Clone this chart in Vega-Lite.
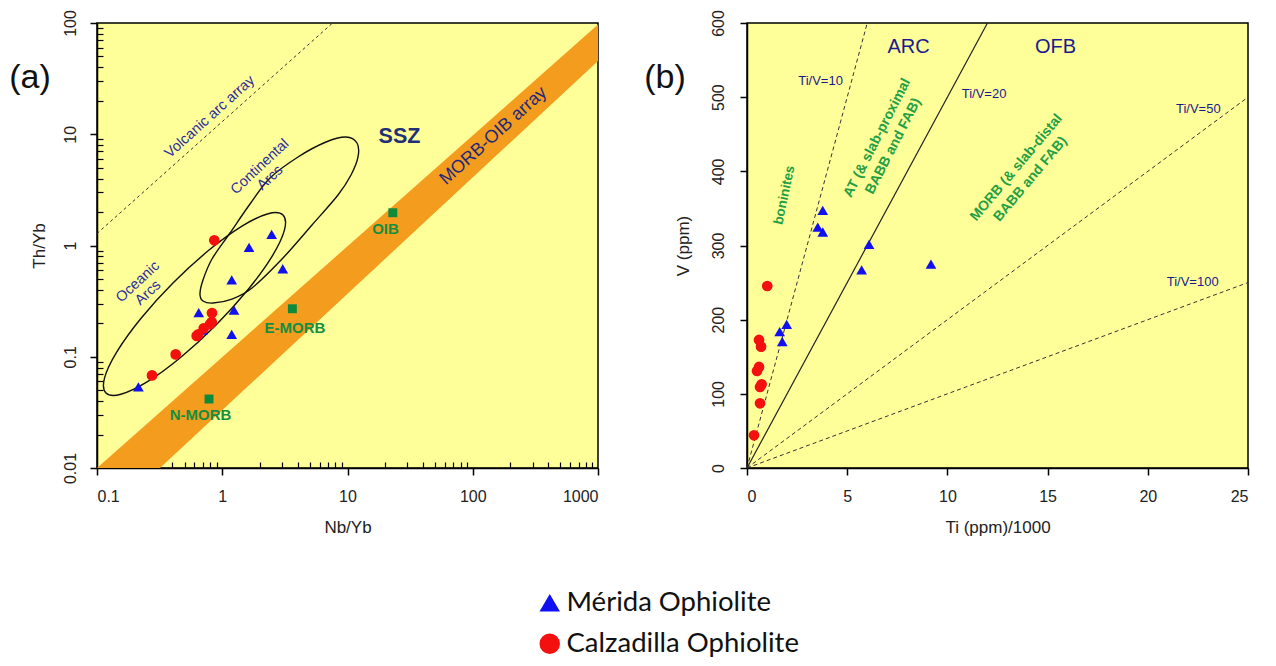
{
  "$schema": "https://vega.github.io/schema/vega-lite/v6.json",
  "padding": {"left": 8, "top": 8, "right": 0, "bottom": 0},
  "bounds": "flush",
  "spacing": 149,
  "config": {
    "view": {"fill": "#FFFF99", "stroke": "#000000", "strokeWidth": 1.5},
    "font": "Liberation Sans",
    "axis": {"domainColor": "#000000", "domainWidth": 1.5, "tickColor": "#000000", "tickWidth": 1.5, "tickSize": 7, "labelFont": "Liberation Sans", "labelFontSize": 16, "labelColor": "#222222", "titleFont": "Liberation Sans", "titleFontSize": 17, "titleFontWeight": "normal", "titleColor": "#222222", "grid": false, "zindex": 1},
    "axisX": {"labelPadding": 13, "titlePadding": 15},
    "axisY": {"labelAngle": -90, "labelAlign": "center", "labelBaseline": "bottom", "labelPadding": 12, "titleBaseline": "middle"},
    "legend": {"title": null, "orient": "none", "legendX": 439, "legendY": 566, "direction": "vertical", "symbolSize": 420, "labelFont": "Lato", "labelFontSize": 27.5, "labelColor": "#111111", "labelLimit": 500, "rowPadding": 12, "labelOffset": 3, "symbolStrokeWidth": 0}
  },
  "datasets": {
    "band": [{"x": 0.1, "hi": 0.01, "lo": 0.00298}, {"x": 1000, "hi": 97, "lo": 45.5}],
    "volcanic": [{"x": 0.1, "y": 1.28}, {"x": 7.6, "y": 100}],
    "ellipses": [
      {"arc": "Oceanic", "i": 1, "x": 3.055, "y": 1.879},
      {"arc": "Oceanic", "i": 2, "x": 3.14, "y": 1.38},
      {"arc": "Oceanic", "i": 3, "x": 2.506, "y": 0.803},
      {"arc": "Oceanic", "i": 4, "x": 1.608, "y": 0.402},
      {"arc": "Oceanic", "i": 5, "x": 0.888, "y": 0.192},
      {"arc": "Oceanic", "i": 6, "x": 0.462, "y": 0.0981},
      {"arc": "Oceanic", "i": 7, "x": 0.251, "y": 0.0594},
      {"arc": "Oceanic", "i": 8, "x": 0.155, "y": 0.046},
      {"arc": "Oceanic", "i": 9, "x": 0.118, "y": 0.0472},
      {"arc": "Oceanic", "i": 10, "x": 0.1148, "y": 0.0643},
      {"arc": "Oceanic", "i": 11, "x": 0.144, "y": 0.1106},
      {"arc": "Oceanic", "i": 12, "x": 0.224, "y": 0.2207},
      {"arc": "Oceanic", "i": 13, "x": 0.406, "y": 0.462},
      {"arc": "Oceanic", "i": 14, "x": 0.78, "y": 0.905},
      {"arc": "Oceanic", "i": 15, "x": 1.438, "y": 1.494},
      {"arc": "Oceanic", "i": 16, "x": 2.323, "y": 1.931},
      {"arc": "Continental", "i": 1, "x": 0.664, "y": 0.3665},
      {"arc": "Continental", "i": 2, "x": 0.702, "y": 0.49},
      {"arc": "Continental", "i": 3, "x": 0.828, "y": 0.756},
      {"arc": "Continental", "i": 4, "x": 1.153, "y": 1.295},
      {"arc": "Continental", "i": 5, "x": 1.666, "y": 2.361},
      {"arc": "Continental", "i": 6, "x": 2.406, "y": 4.044},
      {"arc": "Continental", "i": 7, "x": 4.026, "y": 6.246},
      {"arc": "Continental", "i": 8, "x": 6.735, "y": 8.517},
      {"arc": "Continental", "i": 9, "x": 9.73, "y": 9.448},
      {"arc": "Continental", "i": 10, "x": 11.91, "y": 8.343},
      {"arc": "Continental", "i": 11, "x": 12.13, "y": 6.246},
      {"arc": "Continental", "i": 12, "x": 10.67, "y": 4.302},
      {"arc": "Continental", "i": 13, "x": 8.4, "y": 2.844},
      {"arc": "Continental", "i": 14, "x": 5.207, "y": 1.529},
      {"arc": "Continental", "i": 15, "x": 3.0, "y": 0.756},
      {"arc": "Continental", "i": 16, "x": 1.728, "y": 0.415},
      {"arc": "Continental", "i": 17, "x": 1.196, "y": 0.33},
      {"arc": "Continental", "i": 18, "x": 0.844, "y": 0.304},
      {"arc": "Continental", "i": 19, "x": 0.702, "y": 0.317}
    ],
    "refs": [{"name": "OIB", "x": 23, "y": 1.97}, {"name": "E-MORB", "x": 3.63, "y": 0.27}, {"name": "N-MORB", "x": 0.784, "y": 0.0417}],
    "samplesA": [
      {"series": "Mérida Ophiolite", "x": 0.214, "y": 0.0535},
      {"series": "Mérida Ophiolite", "x": 0.649, "y": 0.249},
      {"series": "Mérida Ophiolite", "x": 0.693, "y": 0.174},
      {"series": "Mérida Ophiolite", "x": 1.241, "y": 0.263},
      {"series": "Mérida Ophiolite", "x": 1.19, "y": 0.159},
      {"series": "Mérida Ophiolite", "x": 1.19, "y": 0.49},
      {"series": "Mérida Ophiolite", "x": 1.636, "y": 0.964},
      {"series": "Mérida Ophiolite", "x": 2.48, "y": 1.26},
      {"series": "Mérida Ophiolite", "x": 3.04, "y": 0.618},
      {"series": "Calzadilla Ophiolite", "x": 0.864, "y": 1.114},
      {"series": "Calzadilla Ophiolite", "x": 0.828, "y": 0.247},
      {"series": "Calzadilla Ophiolite", "x": 0.824, "y": 0.205},
      {"series": "Calzadilla Ophiolite", "x": 0.798, "y": 0.196},
      {"series": "Calzadilla Ophiolite", "x": 0.711, "y": 0.18},
      {"series": "Calzadilla Ophiolite", "x": 0.644, "y": 0.159},
      {"series": "Calzadilla Ophiolite", "x": 0.625, "y": 0.154},
      {"series": "Calzadilla Ophiolite", "x": 0.425, "y": 0.105},
      {"series": "Calzadilla Ophiolite", "x": 0.275, "y": 0.068}
    ],
    "tiv": [
      {"ratio": 10, "ti": 0, "v": 0}, {"ratio": 10, "ti": 6, "v": 600},
      {"ratio": 20, "ti": 0, "v": 0}, {"ratio": 20, "ti": 12, "v": 600},
      {"ratio": 50, "ti": 0, "v": 0}, {"ratio": 50, "ti": 25, "v": 500},
      {"ratio": 100, "ti": 0, "v": 0}, {"ratio": 100, "ti": 25, "v": 250}
    ],
    "samplesB": [
      {"series": "Mérida Ophiolite", "ti": 3.78, "v": 347.4},
      {"series": "Mérida Ophiolite", "ti": 3.53, "v": 324.9},
      {"series": "Mérida Ophiolite", "ti": 3.78, "v": 318.2},
      {"series": "Mérida Ophiolite", "ti": 6.09, "v": 301.6},
      {"series": "Mérida Ophiolite", "ti": 5.72, "v": 267},
      {"series": "Mérida Ophiolite", "ti": 1.98, "v": 193.7},
      {"series": "Mérida Ophiolite", "ti": 1.63, "v": 183.8},
      {"series": "Mérida Ophiolite", "ti": 1.76, "v": 170.3},
      {"series": "Mérida Ophiolite", "ti": 9.18, "v": 275},
      {"series": "Calzadilla Ophiolite", "ti": 1.01, "v": 245.4},
      {"series": "Calzadilla Ophiolite", "ti": 0.6, "v": 172.6},
      {"series": "Calzadilla Ophiolite", "ti": 0.7, "v": 163.6},
      {"series": "Calzadilla Ophiolite", "ti": 0.6, "v": 136.2},
      {"series": "Calzadilla Ophiolite", "ti": 0.5, "v": 130.8},
      {"series": "Calzadilla Ophiolite", "ti": 0.73, "v": 112.8},
      {"series": "Calzadilla Ophiolite", "ti": 0.65, "v": 109.2},
      {"series": "Calzadilla Ophiolite", "ti": 0.65, "v": 87.2},
      {"series": "Calzadilla Ophiolite", "ti": 0.35, "v": 44.1}
    ]
  },
  "hconcat": [
    {
      "width": 501,
      "height": 445,
      "layer": [
        {
          "data": {"name": "band"},
          "mark": {"type": "area", "color": "#F49C1E", "clip": true, "opacity": 1},
          "encoding": {
            "x": {"field": "x", "type": "quantitative", "scale": {"type": "log", "domain": [0.1, 1000]},
              "axis": {"orient": "bottom", "values": [0.2, 0.3, 0.4, 0.5, 0.6, 0.7, 0.8, 0.9, 2, 3, 4, 5, 6, 7, 8, 9, 20, 30, 40, 50, 60, 70, 80, 90, 200, 300, 400, 500, 600, 700, 800, 900], "labels": false, "domain": false, "tickSize": -6, "tickWidth": 1.2, "title": null}},
            "y": {"field": "hi", "type": "quantitative", "scale": {"type": "log", "domain": [0.01, 100]},
              "axis": {"orient": "left", "values": [0.02, 0.03, 0.04, 0.05, 0.06, 0.07, 0.08, 0.09, 0.2, 0.3, 0.4, 0.5, 0.6, 0.7, 0.8, 0.9, 2, 3, 4, 5, 6, 7, 8, 9, 20, 30, 40, 50, 60, 70, 80, 90], "labels": false, "domain": false, "tickSize": -6, "tickWidth": 1.2, "title": null}},
            "y2": {"field": "lo"}
          }
        },
        {
          "encoding": {
            "x": {"field": "x", "type": "quantitative", "scale": {"type": "log", "domain": [0.1, 1000]},
              "axis": {"orient": "bottom", "values": [0.1, 1, 10, 100, 1000], "format": "~g", "title": "Nb/Yb"}},
            "y": {"field": "y", "type": "quantitative", "scale": {"type": "log", "domain": [0.01, 100]},
              "axis": {"orient": "left", "values": [0.01, 0.1, 1, 10, 100], "format": "~g", "title": "Th/Yb", "titleX": -58}}
          },
          "layer": [
            {"data": {"name": "volcanic"}, "mark": {"type": "line", "color": "#333333", "strokeWidth": 1, "strokeDash": [3, 3]}},
            {"data": {"name": "ellipses"}, "mark": {"type": "line", "color": "#111111", "strokeWidth": 1.4, "interpolate": "cardinal-closed"},
              "encoding": {"detail": {"field": "arc", "type": "nominal"}, "order": {"field": "i", "type": "quantitative"}}},
            {"data": {"name": "refs"}, "mark": {"type": "square", "color": "#0E8A3C", "size": 80, "opacity": 1}},
            {"data": {"name": "samplesA"}, "mark": {"type": "point", "filled": true, "opacity": 1, "size": 115},
              "encoding": {
                "color": {"field": "series", "type": "nominal", "scale": {"domain": ["Mérida Ophiolite", "Calzadilla Ophiolite"], "range": ["#1010F0", "#F51010"]}},
                "shape": {"field": "series", "type": "nominal", "scale": {"domain": ["Mérida Ophiolite", "Calzadilla Ophiolite"], "range": ["triangle-up", "circle"]}}
              }},
            {"data": {"values": [{"label": "Volcanic arc array", "x": 0.798, "y": 14.3}]},
              "mark": {"type": "text", "angle": -42, "fontSize": 14.5, "color": "#2B2BA0", "align": "center", "baseline": "middle"},
              "encoding": {"text": {"field": "label"}}},
            {"data": {"values": [{"label": "Continental|Arcs", "x": 2.001, "y": 5.077}, {"label": "Oceanic|Arcs", "x": 0.2125, "y": 0.47}]},
              "mark": {"type": "text", "angle": -43, "fontSize": 14.5, "lineBreak": "|", "lineHeight": 15, "color": "#2B2BA0", "align": "center", "baseline": "middle"},
              "encoding": {"text": {"field": "label"}}},
            {"data": {"values": [{"label": "SSZ", "x": 26, "y": 9.5}]},
              "mark": {"type": "text", "fontSize": 21.5, "fontWeight": "bold", "color": "#1F2F78", "align": "center", "baseline": "middle"},
              "encoding": {"text": {"field": "label"}}},
            {"data": {"values": [{"label": "MORB-OIB array", "x": 146.5, "y": 9.64}]},
              "mark": {"type": "text", "angle": -42, "fontSize": 18, "color": "#1F2A7A", "align": "center", "baseline": "middle"},
              "encoding": {"text": {"field": "label"}}},
            {"data": {"values": [{"label": "OIB", "x": 20.1, "y": 1.42}, {"label": "E-MORB", "x": 3.81, "y": 0.181}, {"label": "N-MORB", "x": 0.67, "y": 0.0299}]},
              "mark": {"type": "text", "fontSize": 15, "fontWeight": "bold", "color": "#158F3F", "align": "center", "baseline": "middle"},
              "encoding": {"text": {"field": "label"}}},
            {"data": {"values": [{"label": "(a)", "x": 0.0292, "y": 32}]},
              "mark": {"type": "text", "fontSize": 34, "color": "#111111", "align": "center", "baseline": "middle"},
              "encoding": {"text": {"field": "label"}}}
          ]
        }
      ],
      "resolve": {"axis": {"x": "independent", "y": "independent"}}
    },
    {
      "width": 501,
      "height": 445,
      "encoding": {
        "x": {"field": "ti", "type": "quantitative", "scale": {"domain": [0, 25], "nice": false, "zero": false},
          "axis": {"values": [0, 5, 10, 15, 20, 25], "title": "Ti (ppm)/1000"}},
        "y": {"field": "v", "type": "quantitative", "scale": {"domain": [0, 600], "nice": false},
          "axis": {"values": [0, 100, 200, 300, 400, 500, 600], "title": "V (ppm)", "labelPadding": 14, "titleX": -64}}
      },
      "layer": [
        {"data": {"name": "tiv"}, "transform": [{"filter": "datum.ratio != 20"}],
          "mark": {"type": "line", "color": "#333333", "strokeWidth": 1, "strokeDash": [4, 3]},
          "encoding": {"detail": {"field": "ratio", "type": "nominal"}}},
        {"data": {"name": "tiv"}, "transform": [{"filter": "datum.ratio == 20"}],
          "mark": {"type": "line", "color": "#222222", "strokeWidth": 1.2},
          "encoding": {"detail": {"field": "ratio", "type": "nominal"}}},
        {"data": {"name": "samplesB"}, "mark": {"type": "point", "filled": true, "opacity": 1, "size": 115},
          "encoding": {
            "color": {"field": "series", "type": "nominal", "scale": {"domain": ["Mérida Ophiolite", "Calzadilla Ophiolite"], "range": ["#1010F0", "#F51010"]}},
            "shape": {"field": "series", "type": "nominal", "scale": {"domain": ["Mérida Ophiolite", "Calzadilla Ophiolite"], "range": ["triangle-up", "circle"]}}
          }},
        {"data": {"values": [{"label": "ARC", "ti": 8.06, "v": 567.6}, {"label": "OFB", "ti": 15.4, "v": 567.6}]},
          "mark": {"type": "text", "fontSize": 20, "color": "#1A1A90", "align": "center", "baseline": "middle"},
          "encoding": {"text": {"field": "label"}}},
        {"data": {"values": [{"label": "Ti/V=10", "ti": 3.67, "v": 521.8}, {"label": "Ti/V=20", "ti": 11.83, "v": 504.9}, {"label": "Ti/V=50", "ti": 22.52, "v": 484}, {"label": "Ti/V=100", "ti": 22.24, "v": 250.8}]},
          "mark": {"type": "text", "fontSize": 13, "color": "#1A1A90", "align": "center", "baseline": "middle"},
          "encoding": {"text": {"field": "label"}}},
        {"data": {"values": [{"label": "boninites", "ti": 1.87, "v": 368}]},
          "mark": {"type": "text", "angle": -78, "fontSize": 13.5, "fontWeight": "bold", "color": "#22A045", "align": "center", "baseline": "middle"},
          "encoding": {"text": {"field": "label"}}},
        {"data": {"values": [{"label": "AT (& slab-proximal|BABB and FAB)", "ti": 6.5, "v": 445}]},
          "mark": {"type": "text", "angle": -63, "fontSize": 14, "fontWeight": "bold", "lineBreak": "|", "lineHeight": 18, "color": "#22A045", "align": "center", "baseline": "middle"},
          "encoding": {"text": {"field": "label"}}},
        {"data": {"values": [{"label": "MORB (& slab-distal|BABB and FAB)", "ti": 13.45, "v": 405}]},
          "mark": {"type": "text", "angle": -50, "fontSize": 14, "fontWeight": "bold", "lineBreak": "|", "lineHeight": 18, "color": "#22A045", "align": "center", "baseline": "middle"},
          "encoding": {"text": {"field": "label"}}},
        {"data": {"values": [{"label": "(b)", "ti": -4.09, "v": 525.8}]},
          "mark": {"type": "text", "fontSize": 34, "color": "#111111", "align": "center", "baseline": "middle"},
          "encoding": {"text": {"field": "label"}}}
      ]
    }
  ]
}
